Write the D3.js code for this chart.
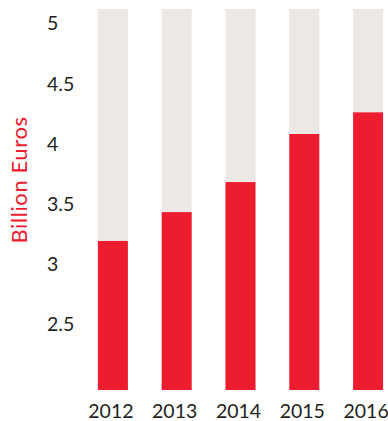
<!DOCTYPE html>
<html>
<head>
<meta charset="utf-8">
<script src="https://cdn.jsdelivr.net/npm/d3@7"></script>
<style>
    body { margin: 0; background: #fff; }
    svg text { font-family: Lato, "Open Sans", sans-serif; }
</style>
</head>
<body>
<div id="chart"></div>
<script>
// data
const years = ["2012", "2013", "2014", "2015", "2016"];
const values = [3.19, 3.43, 3.68, 4.08, 4.26];
const yTicks = [2.5, 3, 3.5, 4, 4.5, 5];
const axisTitle = "Billion Euros";

const width = 388;
const height = 421;

const svg = d3.select("#chart")
    .append("svg")
    .attr("width", width)
    .attr("height", height);

const yMin = 1.95, yMax = 5.12;

const x = d3.scaleBand()
    .domain(years)
    .range([81, 400])
    .paddingInner(0.53)
    .paddingOuter(0.265);

const y = d3.scaleLinear()
    .domain([yMin, yMax])
    .range([390, 9]);

// grey background bars
svg.selectAll("rect.bg")
    .data(years)
    .enter()
    .append("rect")
    .attr("class", "bg")
    .attr("x", d => x(d))
    .attr("width", x.bandwidth())
    .attr("y", y(yMax))
    .attr("height", y(yMin) - y(yMax))
    .attr("fill", "#ece8e5");

// red value bars
svg.selectAll("rect.val")
    .data(values)
    .enter()
    .append("rect")
    .attr("class", "val")
    .attr("x", (d, i) => x(years[i]))
    .attr("width", x.bandwidth())
    .attr("y", d => y(d))
    .attr("height", d => y(yMin) - y(d))
    .attr("fill", "#ed1c2e");

// y tick labels
svg.selectAll("text.ytick")
    .data(yTicks)
    .enter()
    .append("text")
    .attr("class", "ytick")
    .attr("x", 47)
    .attr("y", d => y(d))
    .attr("dy", "0.36em")
    .attr("font-size", 19.5)
    .attr("fill", "#231f20")
    .text(d => d);

// year labels
svg.selectAll("text.xlab")
    .data(years)
    .enter()
    .append("text")
    .attr("class", "xlab")
    .attr("x", d => x(d) + x.bandwidth() / 2 - 2)
    .attr("y", 418)
    .attr("text-anchor", "middle")
    .attr("font-size", 19.5)
    .attr("fill", "#231f20")
    .text(d => d);

// axis title
svg.append("text")
    .attr("transform", "translate(27,180) rotate(-90)")
    .attr("text-anchor", "middle")
    .attr("font-size", 22)
    .attr("letter-spacing", 0.6)
    .attr("fill", "#ed1c2e")
    .text(axisTitle);
</script>
</body>
</html>
